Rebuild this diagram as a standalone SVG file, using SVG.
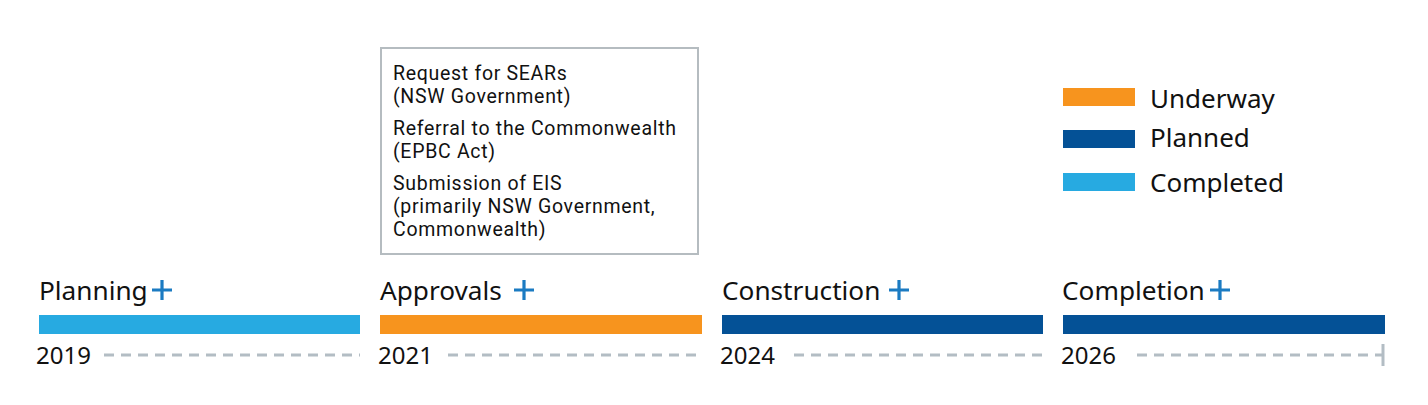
<svg xmlns="http://www.w3.org/2000/svg" width="1428" height="405" viewBox="0 0 1428 405">
<style>
text{font-family:"Noto Sans","Open Sans","DejaVu Sans",sans-serif;fill:#111}
.phase{font-size:26.2px}
.year{font-size:24px}
.box{font-family:Roboto,"Noto Sans",sans-serif;font-size:19.5px;letter-spacing:0.7px}
.leg{font-size:26px}
.plus{stroke:#1b7bc2;stroke-width:3.2;fill:none}
.dash{stroke:#b3bdc4;stroke-width:3;stroke-dasharray:10 7;fill:none}
.completed{fill:#27aae1}
.underway{fill:#f7941e}
.planned{fill:#045196}
</style>
<rect width="1428" height="405" fill="#fff"/>
<g id="approvals-box">
<rect x="381" y="48" width="317" height="206" fill="#fff" stroke="#b5bcc0" stroke-width="2"/>
<text class="box" x="393" y="80">Request for SEARs</text>
<text class="box" x="393" y="103">(NSW Government)</text>
<text class="box" x="393" y="135">Referral to the Commonwealth</text>
<text class="box" x="393" y="158">(EPBC Act)</text>
<text class="box" x="393" y="190">Submission of EIS</text>
<text class="box" x="393" y="213">(primarily NSW Government,</text>
<text class="box" x="393" y="236">Commonwealth)</text>
</g>
<g id="legend">
<rect class="underway" x="1063" y="88" width="72" height="18"/>
<text class="leg" x="1150" y="108">Underway</text>
<rect class="planned" x="1063" y="130" width="72" height="18"/>
<text class="leg" x="1150" y="147">Planned</text>
<rect class="completed" x="1063" y="173" width="72" height="18"/>
<text class="leg" x="1150" y="192">Completed</text>
</g>
<g id="planning">
<text class="phase" x="39" y="300">Planning</text>
<path class="plus" d="M152 290H172M162 280V300"/>
<rect class="completed" x="39" y="315" width="321" height="19"/>
<text class="year" x="36" y="364">2019</text>
</g>
<g id="approvals">
<text class="phase" x="380" y="300">Approvals</text>
<path class="plus" d="M514 290H534M524 280V300"/>
<rect class="underway" x="380" y="315" width="322" height="19"/>
<text class="year" x="378" y="364">2021</text>
</g>
<g id="construction">
<text class="phase" x="722" y="300">Construction</text>
<path class="plus" d="M889 290H909M899 280V300"/>
<rect class="planned" x="722" y="315" width="321" height="19"/>
<text class="year" x="720" y="364">2024</text>
</g>
<g id="completion">
<text class="phase" x="1062" y="300">Completion</text>
<path class="plus" d="M1210 290H1230M1220 280V300"/>
<rect class="planned" x="1063" y="315" width="322" height="19"/>
<text class="year" x="1061" y="364">2026</text>
</g>
<g id="connectors">
<path class="dash" d="M104 355H360"/>
<path class="dash" d="M448 355H702"/>
<path class="dash" d="M794 355H1043"/>
<path class="dash" d="M1137 355H1383"/>
<path d="M1383 344V366" stroke="#b3bdc4" stroke-width="3"/>
</g>
</svg>
